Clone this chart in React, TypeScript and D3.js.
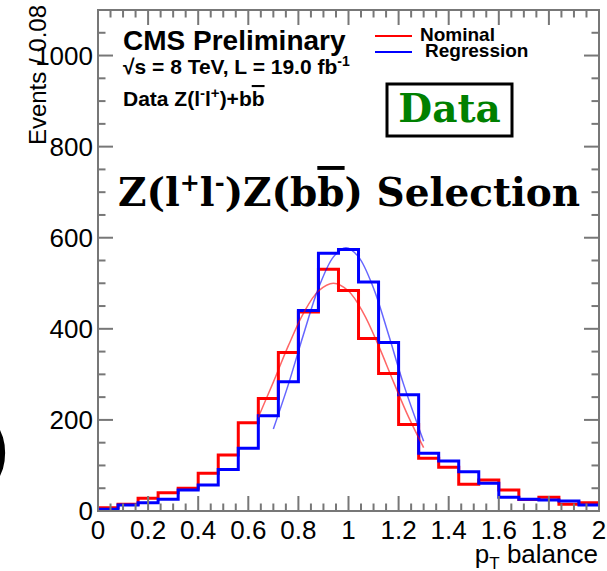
import React from 'react';
import * as d3 from 'd3';

// ---- data ----
const binStart = 0;
const binWidth = 0.08;
const nominalCounts = [7, 15, 28, 40, 50, 83, 123, 194, 247, 348, 437, 531, 484, 379, 302, 190, 116, 96, 59, 68, 46, 25, 30, 15, 18];
const regressionCounts = [4, 13, 18, 26, 46, 57, 91, 138, 209, 284, 440, 566, 574, 503, 370, 255, 127, 110, 86, 61, 30, 26, 24, 22, 13];

const nominalFitX = [0.64, 0.70, 0.76, 0.82, 0.88, 0.94, 1.00, 1.06, 1.12, 1.18, 1.24, 1.30];
const nominalFitY = [206, 283, 363, 434, 483, 500, 483, 434, 363, 283, 206, 139];
const regressionFitX = [0.70, 0.76, 0.82, 0.88, 0.94, 0.99, 1.04, 1.10, 1.16, 1.22, 1.30];
const regressionFitY = [180, 278, 387, 489, 558, 578, 558, 489, 387, 278, 153];

const xMajorTicks = [0, 0.2, 0.4, 0.6, 0.8, 1, 1.2, 1.4, 1.6, 1.8, 2];
const yMajorTicks = [0, 200, 400, 600, 800, 1000];
const xDomain = [0, 2];
const yDomain = [0, 1100];

const legendLabels = ['Nominal', 'Regression'];
const seriesColors = ['#ff0000', '#0000ff'];

export default function App() {
  const W = 607, H = 571;
  const left = 98, right = 599, top = 10, bottom = 511;
  const x = d3.scaleLinear().domain(xDomain).range([left, right]);
  const y = d3.scaleLinear().domain(yDomain).range([bottom, top]);

  const histPath = (counts: number[]) => {
    const pts: [number, number][] = counts.map((c, i) => [binStart + i * binWidth, c]);
    pts.push([binStart + counts.length * binWidth, counts[counts.length - 1]]);
    return d3.line<[number, number]>().x(d => x(d[0])).y(d => y(d[1])).curve(d3.curveStepAfter)(pts) || '';
  };
  const fitPath = (xs: number[], ys: number[]) =>
    d3.line<number>().x((_, i) => x(xs[i])).y(d => y(d)).curve(d3.curveCatmullRom)(ys) || '';

  const xMinor = d3.range(0, 2.0001, 0.05).filter(v => Math.abs(v / 0.2 - Math.round(v / 0.2)) > 1e-6);
  const yMinor = d3.range(0, 1100.001, 50).filter(v => v % 200 !== 0);
  const tickColor = '#777';
  const fmt = d3.format('~g');
  const sans = 'Liberation Sans, Arial, Helvetica, sans-serif';
  const serif = 'DejaVu Serif, serif';

  return (
    <svg width={W} height={H} style={{ position: 'absolute', left: 0, top: 0, background: '#fff' }}>
      <rect x={0} y={0} width={W} height={H} fill="#fff" />
      {/* cut-off glyph at left edge */}
      <text x={-13} y={470} fontSize={64} fontWeight="bold" fontFamily={sans}>)</text>

      {/* histograms */}
      <path d={histPath(nominalCounts)} fill="none" stroke={seriesColors[0]} strokeWidth={3} />
      <path d={histPath(regressionCounts)} fill="none" stroke={seriesColors[1]} strokeWidth={3} />
      {/* fits */}
      <path d={fitPath(nominalFitX, nominalFitY)} fill="none" stroke={seriesColors[0]} strokeWidth={1.5} strokeOpacity={0.6} />
      <path d={fitPath(regressionFitX, regressionFitY)} fill="none" stroke={seriesColors[1]} strokeWidth={1.5} strokeOpacity={0.6} />

      {/* frame */}
      <rect x={left} y={top} width={right - left} height={bottom - top} fill="none" stroke={tickColor} strokeWidth={2} />
      {/* x ticks */}
      {xMajorTicks.map(v => (
        <g key={'xM' + v}>
          <line x1={x(v)} x2={x(v)} y1={bottom} y2={bottom - 15} stroke={tickColor} strokeWidth={2} />
          <line x1={x(v)} x2={x(v)} y1={top} y2={top + 15} stroke={tickColor} strokeWidth={2} />
        </g>
      ))}
      {xMinor.map(v => (
        <g key={'xm' + v}>
          <line x1={x(v)} x2={x(v)} y1={bottom} y2={bottom - 7.5} stroke={tickColor} strokeWidth={2} />
          <line x1={x(v)} x2={x(v)} y1={top} y2={top + 7.5} stroke={tickColor} strokeWidth={2} />
        </g>
      ))}
      {yMajorTicks.map(v => (
        <g key={'yM' + v}>
          <line x1={left} x2={left + 15} y1={y(v)} y2={y(v)} stroke={tickColor} strokeWidth={2} />
          <line x1={right} x2={right - 15} y1={y(v)} y2={y(v)} stroke={tickColor} strokeWidth={2} />
        </g>
      ))}
      {yMinor.map(v => (
        <g key={'ym' + v}>
          <line x1={left} x2={left + 7.5} y1={y(v)} y2={y(v)} stroke={tickColor} strokeWidth={2} />
          <line x1={right} x2={right - 7.5} y1={y(v)} y2={y(v)} stroke={tickColor} strokeWidth={2} />
        </g>
      ))}

      {/* tick labels */}
      {xMajorTicks.map(v => (
        <text key={'xl' + v} x={x(v)} y={539} fontSize={26} fontFamily={sans} textAnchor="middle">{fmt(v)}</text>
      ))}
      {yMajorTicks.map(v => (
        <text key={'yl' + v} x={93} y={y(v) + 9} fontSize={26} fontFamily={sans} textAnchor="end">{fmt(v)}</text>
      ))}

      {/* axis titles */}
      <text x={598} y={563} fontSize={26} fontFamily={sans} textAnchor="end">
        p<tspan fontSize={17} dy={6}>T</tspan><tspan dy={-6}> balance</tspan>
      </text>
      <text transform="translate(46,5) rotate(-90)" fontSize={24} fontFamily={sans} textAnchor="end">Events / 0.08</text>

      {/* CMS labels */}
      <text x={123} y={50} fontSize={28} fontWeight="bold" fontFamily={sans}>CMS Preliminary</text>
      <text x={123} y={74} fontSize={21} fontWeight="bold" fontFamily={sans}>
        √s = 8 TeV, L = 19.0 fb<tspan fontSize={14} dy={-8}>-1</tspan>
      </text>
      <text x={123} y={106} fontSize={21} fontWeight="bold" fontFamily={sans}>
        Data Z(l<tspan fontSize={15} dy={-8}>-</tspan><tspan dy={8}>l</tspan><tspan fontSize={15} dy={-8}>+</tspan><tspan dy={8}>)+b</tspan><tspan style={{ textDecoration: 'overline' }}>b</tspan>
      </text>

      {/* legend */}
      {legendLabels.map((lab, i) => (
        <g key={lab}>
          <line x1={375} x2={412} y1={36 + i * 16} y2={36 + i * 16} stroke={seriesColors[i]} strokeWidth={2} />
          <text x={i === 0 ? 420 : 425} y={41 + i * 16} fontSize={19} fontWeight="bold" fontFamily={sans}>{lab}</text>
        </g>
      ))}

      {/* Data box */}
      <rect x={387} y={84} width={125} height={52} fill="#fff" stroke="#000" strokeWidth={3} />
      <text x={449.5} y={122} fontSize={39} fontWeight="bold" fontFamily={serif} fill="#008000" textAnchor="middle">Data</text>

      {/* selection title */}
      <text x={118} y={206} fontSize={39} fontWeight="bold" fontFamily={serif}>
        Z(l<tspan fontSize={24} dy={-15}>+</tspan><tspan dy={15}>l</tspan><tspan fontSize={24} dy={-15}>-</tspan><tspan dy={15}>)Z(b</tspan><tspan style={{ textDecoration: 'overline' }}>b</tspan>) Selection
      </text>
    </svg>
  );
}
